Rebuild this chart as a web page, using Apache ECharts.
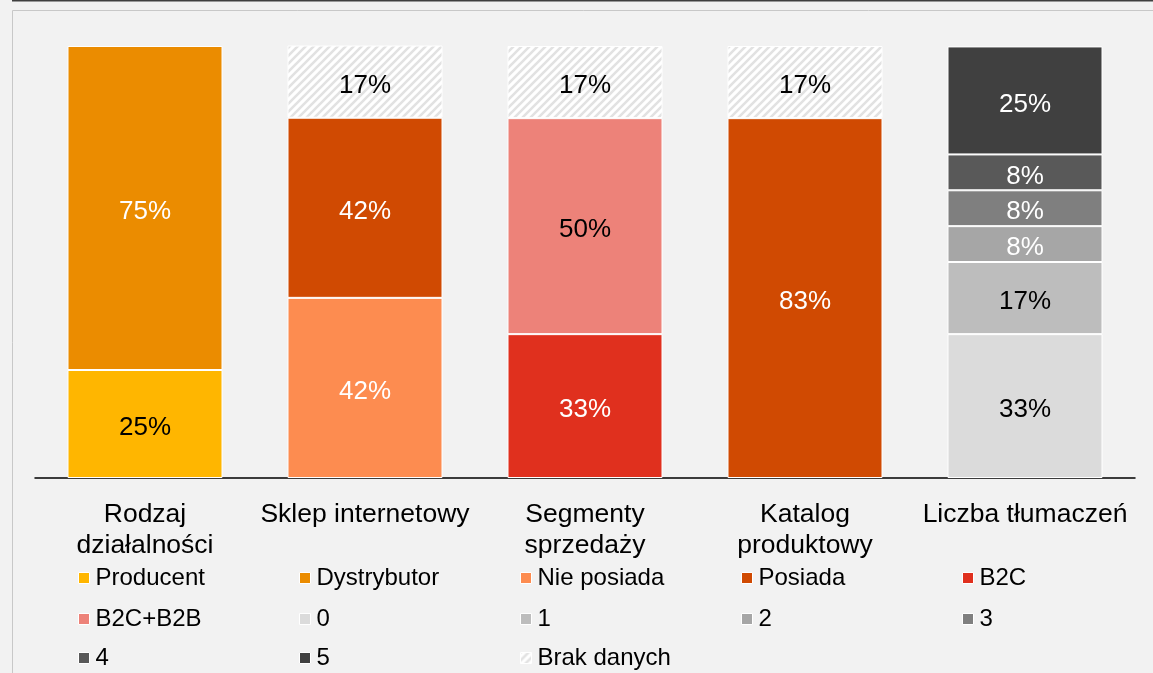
<!DOCTYPE html>
<html>
<head>
<meta charset="utf-8">
<script src="https://cdn.jsdelivr.net/npm/echarts@6/dist/echarts.min.js"></script>
<style>
html,body{margin:0;padding:0;background:#F2F2F2;}
#chart{width:1153px;height:673px;}
</style>
</head>
<body>
<div id="chart"></div>
<script>
const categories = ['Rodzaj\ndziałalności', 'Sklep internetowy', 'Segmenty\nsprzedaży', 'Katalog\nproduktowy', 'Liczba tłumaczeń'];
const seriesNames = ['Producent', 'Dystrybutor', 'Nie posiada', 'Posiada', 'B2C', 'B2C+B2B', '0', '1', '2', '3', '4', '5', 'Brak danych'];
const producent   = [25, '-', '-', '-', '-'];
const dystrybutor = [75, '-', '-', '-', '-'];
const niePosiada  = ['-', 41.7, '-', '-', '-'];
const posiada     = ['-', 41.7, '-', 83.3, '-'];
const b2c         = ['-', '-', 33.3, '-', '-'];
const b2cB2b      = ['-', '-', 50, '-', '-'];
const t0          = ['-', '-', '-', '-', 33.3];
const t1          = ['-', '-', '-', '-', 16.7];
const t2          = ['-', '-', '-', '-', 8.3];
const t3          = ['-', '-', '-', '-', 8.3];
const t4          = ['-', '-', '-', '-', 8.3];
const t5          = ['-', '-', '-', '-', 25];
const brakDanych  = ['-', 16.7, 16.7, 16.7, '-'];
const seriesData = [producent, dystrybutor, niePosiada, posiada, b2c, b2cB2b, t0, t1, t2, t3, t4, t5, brakDanych];

const colors = ['#FFB600', '#EB8C00', '#FD8C50', '#D04A02', '#E0301E', '#ED8279', '#DBDBDB', '#BDBDBD', '#A6A6A6', '#7F7F7F', '#595959', '#404040', null];
const labelColors = ['#000', '#fff', '#fff', '#fff', '#fff', '#000', '#000', '#000', '#fff', '#fff', '#fff', '#fff', '#000'];

// hatch pattern for "Brak danych"
const pc = document.createElement('canvas');
pc.width = 8; pc.height = 8;
const ctx = pc.getContext('2d');
ctx.fillStyle = '#ffffff';
ctx.fillRect(0, 0, 8, 8);
ctx.strokeStyle = '#E2E2E2';
ctx.lineWidth = 2.6;
ctx.beginPath();
ctx.moveTo(-2, 10); ctx.lineTo(10, -2);
ctx.moveTo(-6, 6); ctx.lineTo(6, -6);
ctx.moveTo(2, 14); ctx.lineTo(14, 2);
ctx.stroke();
const hatch = { image: pc, repeat: 'repeat' };

const FONT = "'Liberation Sans', Arial, sans-serif";

const series = seriesNames.map((name, i) => ({
  name: name,
  type: 'bar',
  stack: 'total',
  barWidth: 155,
  data: seriesData[i],
  itemStyle: { color: colors[i] || hatch, borderColor: '#ffffff', borderWidth: 1 },
  label: {
    show: true,
    position: 'inside',
    offset: [0, 4],
    color: labelColors[i],
    fontFamily: FONT,
    fontSize: 26,
    formatter: p => Math.round(p.value) + '%'
  },
  emphasis: { disabled: true }
}));

const rowY = [578, 619, 658];
const legends = seriesNames.map((name, i) => ({
  data: [name],
  left: 78 + (i % 5) * 221,
  top: rowY[Math.floor(i / 5)] - 14,
  padding: 0,
  itemWidth: 11,
  itemHeight: 11,
  itemGap: 0,
  icon: 'rect',
  itemStyle: { borderColor: '#ffffff', borderWidth: 1 },
  textStyle: { fontFamily: FONT, fontSize: 24, color: '#000', lineHeight: 28, padding: [0, 0, 0, 1] },
  selectedMode: false
}));

const chart = echarts.init(document.getElementById('chart'), null, { renderer: 'canvas' });
chart.setOption({
  backgroundColor: '#F2F2F2',
  animation: false,
  graphic: [
    { type: 'rect', shape: { x: 12, y: 0, width: 1200, height: 1.5 }, style: { fill: '#404040' }, z: 100 },
    { type: 'rect', shape: { x: 12.5, y: 10.5, width: 1200, height: 700 }, style: { fill: 'none', stroke: '#C8C8C8', lineWidth: 1 }, z: 100 }
  ],
  legend: legends,
  grid: { left: 35, right: 18, top: 46, bottom: 195 },
  xAxis: {
    type: 'category',
    data: categories,
    axisLine: { show: true, lineStyle: { color: '#000', width: 1.5 } },
    axisTick: { show: false },
    axisLabel: { fontFamily: FONT, fontSize: 26.5, color: '#000', lineHeight: 31, margin: 21, interval: 0 }
  },
  yAxis: {
    type: 'value',
    min: 0,
    max: 100,
    show: false,
    splitLine: { show: false }
  },
  series: series
});
</script>
</body>
</html>
